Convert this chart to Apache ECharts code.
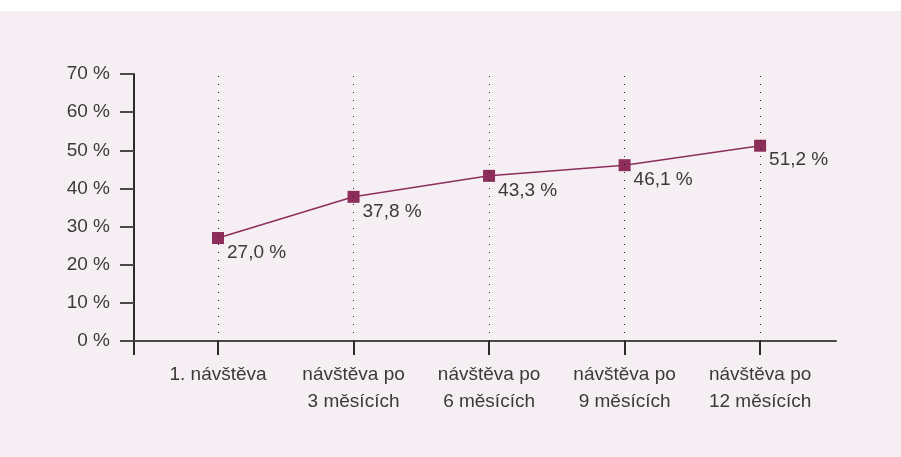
<!DOCTYPE html>
<html lang="cs">
<head>
<meta charset="utf-8">
<title>Podíl pacientů podle návštěvy</title>
<script src="https://cdn.jsdelivr.net/npm/echarts@6/dist/echarts.min.js"></script>
<style>
  html, body { margin: 0; padding: 0; background: #ffffff; }
  #chart { position: absolute; left: 0; top: 11px; width: 901px; height: 446px; }
</style>
</head>
<body>
<div id="chart"></div>
<script>
// Visits along the horizontal axis
const categories = [
  '1. návštěva',
  'návštěva po\n3 měsících',
  'návštěva po\n6 měsících',
  'návštěva po\n9 měsících',
  'návštěva po\n12 měsících'
];
// Share in percent for each visit
const values = [27.0, 37.8, 43.3, 46.1, 51.2];
// Vertical axis range
const yMin = 0;
const yMax = 70;
const yStep = 10;

// Horizontal extent: categories sit at 0..n-1 with margins on both sides
const xMin = -0.62;
const xMax = 4.56;
const catIdx = categories.map((c, i) => i);

const textColor = '#3a3a3a';
const accent = '#8d2d5a';
const fontFamily = '"Liberation Sans", Arial, sans-serif';
const fontSize = 19;

const fmtPct = v => v.toFixed(1).replace('.', ',') + ' %';

const chart = echarts.init(document.getElementById('chart'), null, { renderer: 'canvas' });
chart.setOption({
  animation: false,
  backgroundColor: '#f5eff3',
  textStyle: { fontFamily: fontFamily },
  grid: { left: 134, right: 65, top: 63, bottom: 116, containLabel: false },
  xAxis: {
    type: 'value',
    min: xMin,
    max: xMax,
    axisLine: { show: true, onZero: false, lineStyle: { color: '#4a4a4a', width: 2 } },
    axisTick: {
      show: true,
      customValues: [xMin].concat(catIdx),
      length: 14,
      lineStyle: { color: '#2a2a2a', width: 2 }
    },
    axisLabel: {
      show: true,
      customValues: catIdx,
      formatter: v => categories[Math.round(v)],
      color: textColor,
      fontSize: fontSize,
      lineHeight: 27,
      margin: 20,
      fontFamily: fontFamily
    },
    splitLine: { show: false }
  },
  yAxis: {
    type: 'value',
    min: yMin,
    max: yMax,
    interval: yStep,
    axisLine: { show: true, onZero: false, lineStyle: { color: '#2a2a2a', width: 2 } },
    axisTick: { show: true, length: 14, lineStyle: { color: '#4a4a4a', width: 2 } },
    axisLabel: {
      formatter: '{value} %',
      color: textColor,
      fontSize: fontSize,
      margin: 24,
      fontFamily: fontFamily
    },
    splitLine: { show: false }
  },
  series: [{
    type: 'line',
    data: values.map((v, i) => [i, v]),
    symbol: 'rect',
    symbolSize: 12,
    lineStyle: { color: accent, width: 1.5 },
    itemStyle: { color: accent },
    emphasis: { disabled: true },
    label: {
      show: true,
      position: [15, 11],
      align: 'left',
      verticalAlign: 'top',
      formatter: p => fmtPct(p.value[1]),
      color: textColor,
      fontSize: fontSize,
      fontFamily: fontFamily
    },
    markLine: {
      silent: true,
      symbol: ['none', 'none'],
      label: { show: false },
      emphasis: { disabled: true },
      lineStyle: { color: '#222222', width: 1, type: [1, 7] },
      data: catIdx.map(i => ({ xAxis: i }))
    },
    z: 3
  }]
});
</script>
</body>
</html>
